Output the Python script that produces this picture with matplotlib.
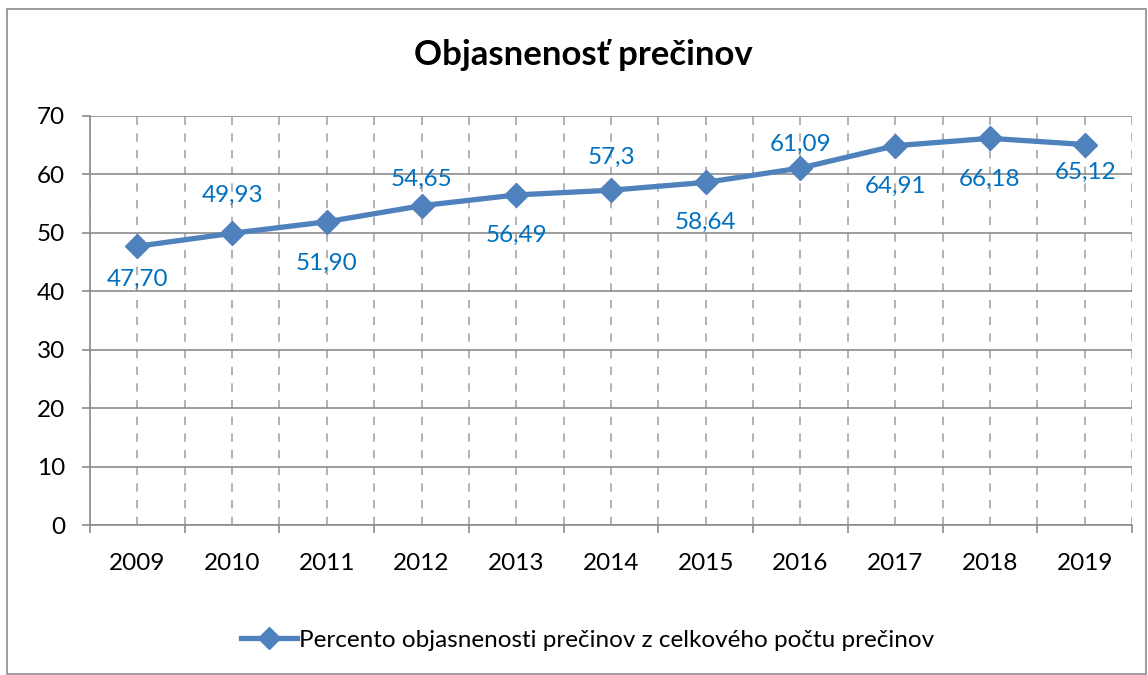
import numpy as np
import matplotlib
matplotlib.use("Agg")
import matplotlib.pyplot as plt
from matplotlib.patches import Rectangle

plt.rcParams['font.family'] = ['Lato', 'DejaVu Sans']

years = ['2009', '2010', '2011', '2012', '2013', '2014', '2015', '2016', '2017', '2018', '2019']
values = [47.70, 49.93, 51.90, 54.65, 56.49, 57.3, 58.64, 61.09, 64.91, 66.18, 65.12]
labels = ['47,70', '49,93', '51,90', '54,65', '56,49', '57,3', '58,64', '61,09', '64,91', '66,18', '65,12']
# label offsets in points (dx, dy)
offsets = [(0, -24), (0, 27), (0, -30), (0, 19), (0, -29), (0, 24), (0, -29), (0, 17), (0, -29), (0, -29.5), (1, -20)]

series_name = 'Percento objasnenosti prečinov z celkového počtu prečinov'
line_col = '#4F81BD'
lab_col = '#0070C0'
grid_col = '#8C8C8C'

fig = plt.figure(figsize=(11.48, 6.75), dpi=100)
fig.patches.append(Rectangle((0.006, 0.001), 0.992, 0.986, transform=fig.transFigure,
                             fill=False, edgecolor='#8C8C8C', linewidth=1.2))
ax = fig.add_axes([90/1148, 1-525/675, (1132-90)/1148, (525-116)/675])

x = np.arange(len(years))
ax.plot(x, values, color=line_col, linewidth=3.8, marker='D', markersize=12,
        markeredgecolor=line_col, label=series_name, zorder=3, solid_joinstyle='round')
for xi, v, lab, off in zip(x, values, labels, offsets):
    ax.annotate(lab, (xi, v), xytext=off, textcoords='offset points',
                ha='center', va='center', color=lab_col, fontsize=17.5)

ax.set_xlim(-0.5, len(years) - 0.5)
ax.set_ylim(0, 70)
ax.set_yticks(np.arange(0, 71, 10))
ax.set_xticks(np.arange(-0.5, len(years), 1.0))
ax.set_xticklabels([])
ax.set_xticks(x, minor=True)
ax.set_xticklabels(years, minor=True)
ax.tick_params(axis='x', which='major', length=6, color=grid_col, width=1.2)
ax.tick_params(axis='x', which='minor', length=0, pad=20, labelsize=17.5)
ax.tick_params(axis='y', length=6, color=grid_col, width=1.2, labelsize=17.5, pad=12)

ax.grid(axis='y', color=grid_col, linewidth=1.2)
ax.grid(axis='x', which='both', color='#A6A6A6', linestyle=(0, (5, 5)), linewidth=1.2)
ax.set_axisbelow(True)
for s in ['top', 'right']:
    ax.spines[s].set_visible(False)
ax.spines['left'].set_color(grid_col)
ax.spines['bottom'].set_color(grid_col)
ax.spines['left'].set_linewidth(1.2)
ax.spines['bottom'].set_linewidth(1.2)

fig.text(583/1148, 1-55/675, 'Objasnenosť prečinov', ha='center', va='center',
         fontsize=25, fontweight='bold')

fig.legend(loc='center', bbox_to_anchor=(0.512, 1-640/675), frameon=False,
           fontsize=17.5, handlelength=2.3, handletextpad=0.1, markerscale=0.9)

fig.savefig('out.png', dpi=100)
